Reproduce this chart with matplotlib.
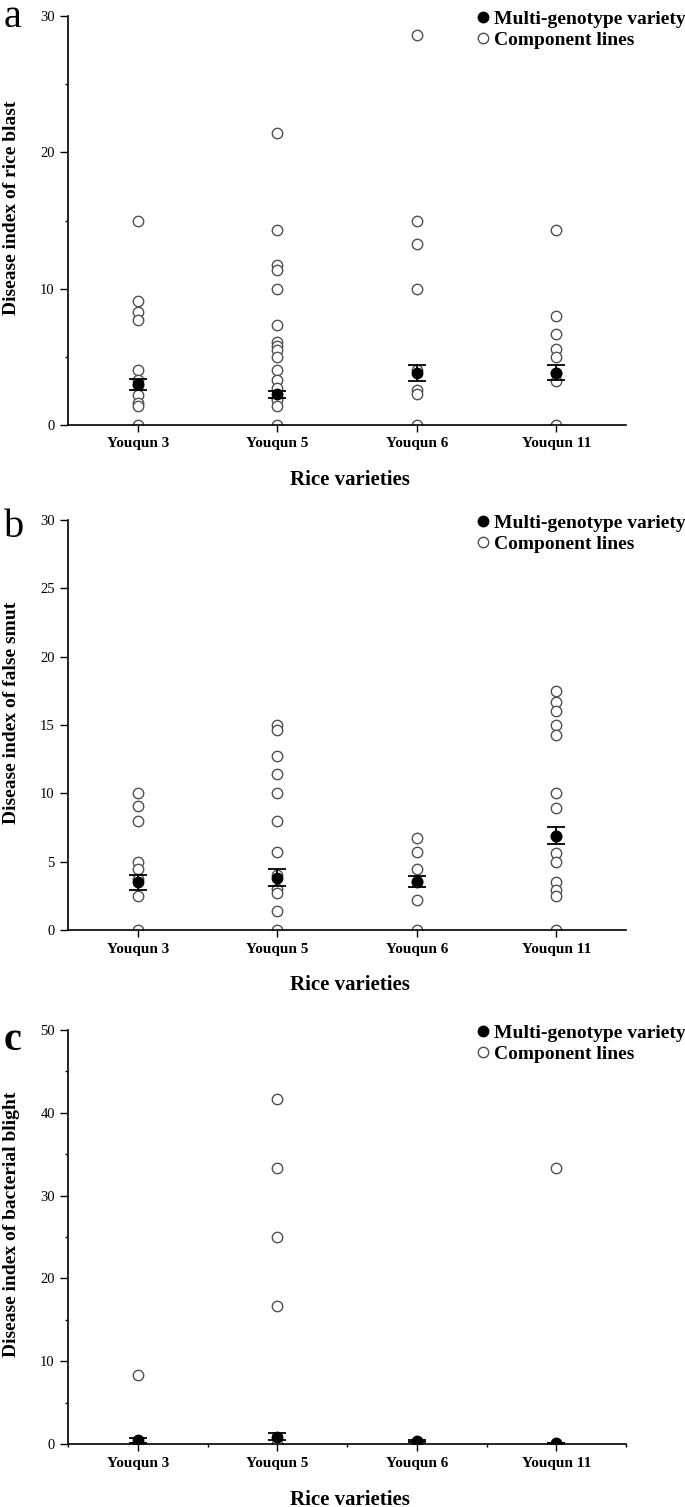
import numpy as np
import matplotlib.pyplot as plt

plt.rcParams['font.family'] = ['Liberation Serif', 'DejaVu Serif']

varieties = ['Youqun 3', 'Youqun 5', 'Youqun 6', 'Youqun 11']

# a: rice blast
blast_lines = [
    [15.0, 9.1, 8.3, 7.7, 4.0, 3.3, 2.9, 2.2, 1.6, 1.4, 0.0],
    [21.4, 14.3, 11.7, 11.4, 10.0, 7.3, 6.1, 5.8, 5.5, 5.0, 4.0, 3.3, 2.7, 2.0, 1.8, 1.4, 0.0],
    [28.6, 15.0, 13.3, 10.0, 4.0, 2.6, 2.3, 0.0],
    [14.3, 8.0, 6.7, 5.6, 5.0, 3.8, 3.2, 0.0],
]
blast_mean = [3.0, 2.27, 3.8, 3.83]
blast_se = [0.4, 0.26, 0.6, 0.55]

# b: false smut
smut_lines = [
    [10.0, 9.1, 8.0, 5.0, 4.5, 3.7, 2.5, 0.0],
    [15.0, 14.6, 12.7, 11.4, 10.0, 8.0, 5.7, 4.0, 3.0, 2.7, 1.4, 0.0],
    [6.7, 5.7, 4.5, 3.6, 2.2, 0.0],
    [17.5, 16.7, 16.0, 15.0, 14.3, 10.0, 8.9, 6.9, 5.6, 5.0, 3.5, 2.9, 2.5, 0.0],
]
smut_mean = [3.48, 3.84, 3.54, 6.9]
smut_se = [0.55, 0.6, 0.39, 0.61]

# c: bacterial blight
blight_lines = [
    [8.33, 0.0],
    [41.67, 33.33, 25.0, 16.67, 0.0],
    [0.0],
    [33.33, 0.0],
]
blight_mean = [0.48, 0.9, 0.35, 0.15]
blight_se = [0.3, 0.45, 0.15, 0.0]

W, H = 685, 1507
fig = plt.figure(figsize=(W / 100, H / 100), dpi=100)


def panel(top, bottom, lines, mean, se, ymax, major, minor, ylabel, letter, base,
          minor_x=False, bold_letter=False):
    ax = fig.add_axes([68 / W, 1 - bottom / H, 558 / W, (bottom - top) / H])
    x = np.arange(1, 5)
    for i, vals in enumerate(lines):
        ax.plot([x[i]] * len(vals), vals, 'o', ms=7.5, mfc='white', mec='#505050',
                mew=1.0, zorder=2, label='Component lines' if i == 0 else None)
    ax.errorbar(x, mean, yerr=se, fmt='none', ecolor='black', elinewidth=1.3,
                capsize=6.5, capthick=1.3, zorder=3)
    ax.plot(x, mean, 'o', ms=7.5, color='black', zorder=4, label='Multi-genotype variety')

    ax.set_xlim(0.5, 4.5)
    ax.set_ylim(0, ymax)
    ax.set_yticks(np.arange(0, ymax + 0.1, major))
    if minor:
        ax.set_yticks(np.arange(minor, ymax, major), minor=True)
    ax.set_xticks(x)
    ax.set_xticklabels(varieties, fontweight='bold', fontsize=11)
    if minor_x:
        ax.set_xticks(np.arange(0.5, 4.6, 1.0), minor=True)
    ax.tick_params(axis='y', which='major', direction='out', length=5.5, width=1.0,
                   labelsize=10.5, pad=4)
    ax.tick_params(axis='y', which='minor', direction='out', length=2.5, width=1.0)
    ax.tick_params(axis='x', which='major', direction='out', length=5, width=1.0, pad=4)
    ax.tick_params(axis='x', which='minor', direction='out', length=2.5, width=1.0)
    for s in ['top', 'right']:
        ax.spines[s].set_visible(False)
    for s in ['left', 'bottom']:
        ax.spines[s].set_linewidth(1.2)

    ax.set_ylabel(ylabel, fontweight='bold', fontsize=14)
    ax.yaxis.set_label_coords(-0.086, 0.53)
    ax.set_xlabel('Rice varieties', fontweight='bold', fontsize=15)
    ax.xaxis.set_label_coords(0.505, -0.11)

    h, l = ax.get_legend_handles_labels()
    ax.legend(h[::-1][:2], l[::-1][:2], loc='upper left', frameon=False,
              bbox_to_anchor=(475 / W, 1 - (top - 6) / H), bbox_transform=fig.transFigure,
              prop={'weight': 'bold', 'size': 14}, handlelength=0.8, handletextpad=0.2,
              borderpad=0, labelspacing=0.2, borderaxespad=0)
    fig.text(4 / W, 1 - base / H, letter, fontsize=29, va='baseline', ha='left',
             fontweight='bold' if bold_letter else 'normal')
    return ax


panel(16, 425, blast_lines, blast_mean, blast_se, 30, 10, 5,
      'Disease index of rice blast', 'a', 27)
panel(520, 930, smut_lines, smut_mean, smut_se, 30, 5, None,
      'Disease index of false smut', 'b', 537)
panel(1030, 1444, blight_lines, blight_mean, blight_se, 50, 10, 5,
      'Disease index of bacterial blight', 'c', 1050, minor_x=True, bold_letter=True)

fig.savefig('out.png', dpi=100)
